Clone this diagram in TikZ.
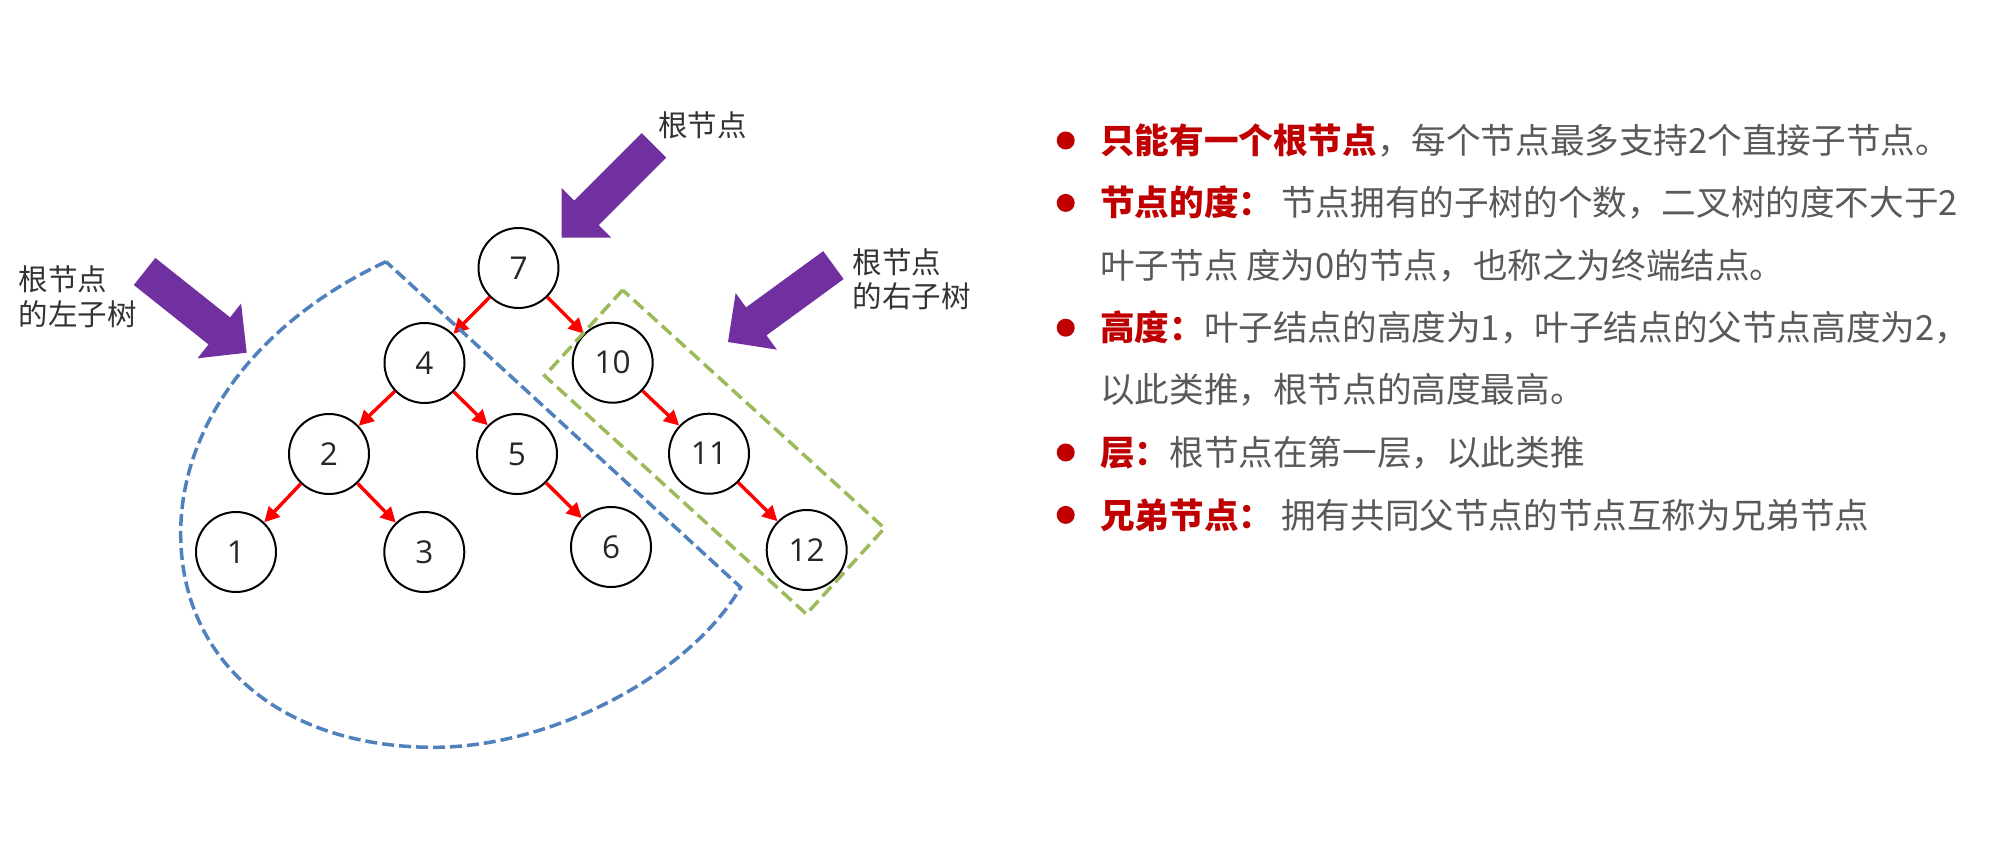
\documentclass[tikz,border=0pt]{standalone}
\usepackage{fontspec}
\setmainfont{Open Sans}
\newfontfamily\cjk{Noto Sans CJK SC}
\usetikzlibrary{arrows.meta}
\definecolor{txtgray}{HTML}{595959}
\definecolor{darkred}{HTML}{C00000}
\definecolor{purp}{HTML}{7030A0}
\definecolor{bl}{HTML}{4F81BD}
\definecolor{gr}{HTML}{9BBB59}
\definecolor{lblc}{HTML}{333333}
\definecolor{numc}{HTML}{262626}
\newcommand\purplearrow[3]{\fill[purp, shift={(#1,#2)}, rotate=#3] (0,0) -- (35,35) -- (35,17.3) -- (130.5,17.3) -- (130.5,-17.3) -- (35,-17.3) -- (35,-35) -- cycle;}
\begin{document}
\begin{tikzpicture}[x=1pt,y=-1pt,
  tn/.style={circle, draw=black, line width=2pt, fill=white, minimum size=80pt, inner sep=0pt, font=\fontsize{31.5}{36}\selectfont, text=numc},
  edge/.style={draw=red, line width=3.4pt, -{Triangle[length=15pt,width=15pt]}},
  lbl/.style={font=\cjk\fontsize{29.5}{34.7}\selectfont, text=lblc, inner sep=0pt, align=left},
  bul/.style={circle, fill=darkred, minimum size=18pt, inner sep=0pt},
  tline/.style={anchor=west, inner sep=0pt, font=\cjk\fontsize{34.6}{40}\selectfont, text=txtgray},
  bluebox/.style={draw=bl, line width=3.5pt, dash pattern=on 12pt off 5pt},
  greenbox/.style={draw=gr, line width=3.5pt, dash pattern=on 13pt off 6pt}
]
\fill[white] (0,0) rectangle (2006,843);
\useasboundingbox (0,0) rectangle (2006,843);

% purple block arrows
\purplearrow{561.7}{237.7}{45}
\purplearrow{728}{342}{36.1}
\purplearrow{246.7}{352.7}{141.5}

% tree nodes
\node[tn] (n7)  at (518.5,268)   {7};
\node[tn] (n4)  at (424.5,363)   {4};
\node[tn] (n10) at (612.7,362.7) {10};
\node[tn] (n2)  at (329,454)     {2};
\node[tn] (n5)  at (517,454)     {5};
\node[tn] (n11) at (709,453.7)   {11};
\node[tn] (n1)  at (236,552)     {1};
\node[tn] (n3)  at (424.3,552)   {3};
\node[tn] (n6)  at (611,547)     {6};
\node[tn] (n12) at (806.7,550)   {12};

% edges
\draw[edge] (n7) -- (n4);
\draw[edge] (n7) -- (n10);
\draw[edge] (n4) -- (n2);
\draw[edge] (n4) -- (n5);
\draw[edge] (n2) -- (n1);
\draw[edge] (n2) -- (n3);
\draw[edge] (n5) -- (n6);
\draw[edge] (n10) -- (n11);
\draw[edge] (n11) -- (n12);

% dashed regions
\draw[bluebox] (386,261.7) .. controls (258.7,321) and (180.7,424.2) .. (180.7,533.3)
  .. controls (180.7,661.7) and (282,747.3) .. (434,747.3)
  .. controls (551.4,747.3) and (689.4,675.3) .. (740.7,587.3) -- cycle;
\draw[greenbox, shift={(714.5,452)}, rotate=-42.3] (-177,-58) rectangle (177,58);

% labels
\node[lbl] (lroot) at (702.5,125.5) {根节点};
\node[lbl, anchor=west] (lleft) at (18.5,297) {根节点\\的左子树};
\node[lbl, anchor=west] (lright) at (852.5,279.2) {根节点\\的右子树};

% right text
\node[bul] (b1) at (1065.7,140.5) {};
\node[bul] (b2) at (1065.7,202.9) {};
\node[bul] (b4) at (1065.7,327.7) {};
\node[bul] (b6) at (1065.7,452.5) {};
\node[bul] (b7) at (1065.7,514.9) {};
\node[tline] (t1) at (1100,140.5) {\textcolor{darkred}{\bfseries 只能有一个根节点}，每个节点最多支持2个直接子节点。};
\node[tline] (t2) at (1100,202.9) {\textcolor{darkred}{\bfseries 节点的度：}\hspace{8pt}节点拥有的子树的个数，二叉树的度不大于2};
\node[tline] (t3) at (1100,265.3) {叶子节点 度为0的节点，也称之为终端结点。};
\node[tline] (t4) at (1100,327.7) {\textcolor{darkred}{\bfseries 高度：}叶子结点的高度为1，叶子结点的父节点高度为2，};
\node[tline] (t5) at (1100,390.1) {以此类推，根节点的高度最高。};
\node[tline] (t6) at (1100,452.5) {\textcolor{darkred}{\bfseries 层：}根节点在第一层，以此类推};
\node[tline] (t7) at (1100,514.9) {\textcolor{darkred}{\bfseries 兄弟节点：}\hspace{8pt}拥有共同父节点的节点互称为兄弟节点};
\end{tikzpicture}
\end{document}
